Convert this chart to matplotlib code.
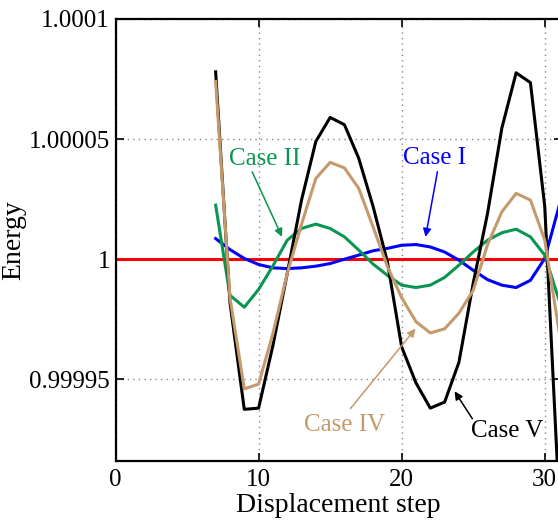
import numpy as np
import matplotlib.pyplot as plt
from matplotlib.ticker import FixedLocator, FixedFormatter

plt.rcParams['font.family'] = ['Liberation Serif', 'DejaVu Serif']

# displacement steps
steps = list(range(7, 32))

# energy deviations, in units of 1e-5 (energy = 1 + dev * 1e-5)
case_I = [0.86, 0.40, 0.03, -0.22, -0.36, -0.39, -0.36, -0.29, -0.18, 0.00, 0.17, 0.35, 0.45,
          0.58, 0.61, 0.51, 0.30, -0.04, -0.46, -0.85, -1.08, -1.18, -0.88, 0.03, 2.2]
case_II = [2.25, -1.5, -2.0, -1.26, -0.28, 0.79, 1.28, 1.46, 1.28, 0.93, 0.38, -0.2, -0.67,
           -1.08, -1.18, -1.08, -0.76, -0.25, 0.30, 0.79, 1.10, 1.25, 0.93, 0.17, -1.7]
case_IV = [7.4, -1.6, -5.4, -5.2, -3.1, -0.6, 1.45, 3.36, 4.03, 3.8, 2.95, 1.35, -0.3,
           -1.6, -2.6, -3.07, -2.9, -2.25, -1.3, 0.6, 1.97, 2.74, 2.46, 0.8, -3.0]
case_V = [7.8, -1.8, -6.25, -6.2, -3.6, -0.6, 2.46, 4.9, 5.9, 5.6, 4.2, 2.2, -0.1,
          -3.65, -5.15, -6.2, -5.95, -4.3, -1.0, 1.9, 5.45, 7.76, 7.35, 2.2, -10.0]

ytick_vals = [0.99995, 1.0, 1.00005, 1.0001]
ytick_labels = ['0.99995', '1', '1.00005', '1.0001']
xtick_vals = [0, 10, 20, 30]

green = '#0A9650'
tan = '#C49A6C'

def energy(dev):
    return 1 + np.array(dev) * 1e-5

fig = plt.figure(figsize=(5.58, 5.2), dpi=100)
ax = fig.add_axes([0.207, 0.1135, 0.800, 0.850])

ax.axhline(1.0, color='#FF0000', lw=2.2, zorder=2)
ax.plot(steps, energy(case_I), color='#0000FF', lw=2.2, zorder=3)
ax.plot(steps, energy(case_II), color=green, lw=2.2, zorder=3)
ax.plot(steps, energy(case_IV), color=tan, lw=2.2, zorder=4)
ax.plot(steps, energy(case_V), color='black', lw=2.2, zorder=3)

ax.set_xlim(0, 31.2)
ax.set_ylim(0.999916, 1.0001)

ax.xaxis.set_major_locator(FixedLocator(xtick_vals))
ax.yaxis.set_major_locator(FixedLocator(ytick_vals))
ax.yaxis.set_major_formatter(FixedFormatter(ytick_labels))
ax.tick_params(direction='in', length=6, width=1.2, labelsize=18, top=True, right=True)
ax.tick_params(axis='y', pad=4)
ax.tick_params(axis='x', pad=6)
ax.grid(True, linestyle=(0, (1, 3)), color='#888888', lw=1.0)
for s in ax.spines.values():
    s.set_linewidth(1.6)

ax.set_xlabel('Displacement step', fontsize=20, labelpad=1)
ax.set_ylabel('Energy', fontsize=20, labelpad=2)

# annotations
arrow_kw = dict(arrowstyle='-|>', lw=1.1, mutation_scale=12, shrinkA=0, shrinkB=0)
ax.text(10.4, energy(4.17), 'Case II', color=green, fontsize=18, ha='center', va='center')
ax.annotate('', xy=(11.64, energy(0.93)), xytext=(9.55, energy(3.64)),
            arrowprops=dict(color=green, **arrow_kw))
ax.text(22.3, energy(4.2), 'Case I', color='#0000FF', fontsize=18, ha='center', va='center')
ax.annotate('', xy=(21.67, energy(0.93)), xytext=(22.5, energy(3.64)),
            arrowprops=dict(color='#0000FF', **arrow_kw))
ax.text(16.0, energy(-6.9), 'Case IV', color=tan, fontsize=18, ha='center', va='center')
ax.annotate('', xy=(20.97, energy(-2.89)), xytext=(16.42, energy(-6.22)),
            arrowprops=dict(color=tan, **arrow_kw))
ax.text(27.4, energy(-7.17), 'Case V', color='black', fontsize=18, ha='center', va='center')
ax.annotate('', xy=(23.7, energy(-5.5)), xytext=(24.94, energy(-6.64)),
            arrowprops=dict(color='black', **arrow_kw))

fig.savefig('out.png', dpi=100)
